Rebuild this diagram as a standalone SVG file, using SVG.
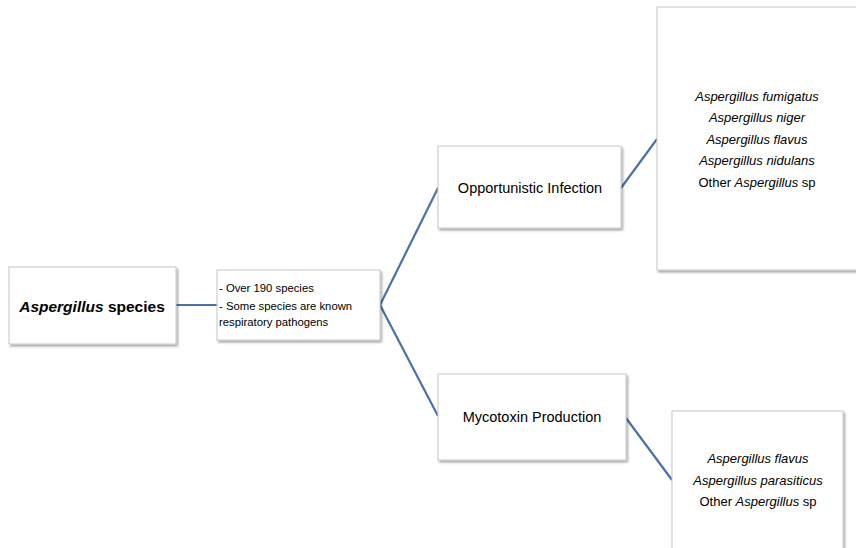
<svg xmlns="http://www.w3.org/2000/svg" width="856" height="548" viewBox="0 0 856 548">
<defs>
<filter id="sh" x="-10%" y="-10%" width="130%" height="130%">
<feDropShadow dx="1.5" dy="2" stdDeviation="1" flood-color="#000" flood-opacity="0.35"/>
</filter>
</defs>
<style>
.box{fill:#fff;stroke:#c8c8c8;stroke-width:1;filter:url(#sh)}
.t{font-family:"Liberation Sans",Arial,sans-serif;fill:#000}
.c{text-anchor:middle}
.i{font-style:italic}
.conn line{stroke:#4a72a8;stroke-width:2.2;fill:none}
</style>
<rect width="856" height="548" fill="#fff"/>
<g id="connectors" class="conn">
<line x1="176" y1="305" x2="217" y2="305"/>
<line x1="380" y1="305" x2="438" y2="188"/>
<line x1="380" y1="305" x2="438" y2="416"/>
<line x1="621" y1="188" x2="657" y2="139"/>
<line x1="626" y1="418" x2="672" y2="480"/>
</g>
<g id="n-aspergillus">
<rect class="box" x="9" y="267" width="167" height="77"/>
<text class="t c" x="92" y="312" font-size="15.5" font-weight="bold"><tspan font-style="italic">Aspergillus</tspan> species</text>
</g>
<g id="n-info">
<rect class="box" x="217" y="270" width="163" height="70"/>
<text class="t" font-size="11.3" x="219" y="292">- Over 190 species</text>
<text class="t" font-size="11.3" x="219" y="310">- Some species are known</text>
<text class="t" font-size="11.3" x="219" y="326">respiratory pathogens</text>
</g>
<g id="n-opportunistic">
<rect class="box" x="438" y="146" width="183" height="82"/>
<text class="t c" x="530" y="193" font-size="14.5">Opportunistic Infection</text>
</g>
<g id="n-opp-species">
<rect class="box" x="657" y="7" width="205" height="263"/>
<text class="t c i" x="757" y="101" font-size="13">Aspergillus fumigatus</text>
<text class="t c i" x="757" y="122" font-size="13">Aspergillus niger</text>
<text class="t c i" x="757" y="144" font-size="13">Aspergillus flavus</text>
<text class="t c i" x="757" y="165" font-size="13">Aspergillus nidulans</text>
<text class="t c" x="757" y="187" font-size="13">Other <tspan font-style="italic">Aspergillus</tspan> sp</text>
</g>
<g id="n-mycotoxin">
<rect class="box" x="438" y="374" width="188" height="86"/>
<text class="t c" x="532" y="422" font-size="14.5">Mycotoxin Production</text>
</g>
<g id="n-myco-species">
<rect class="box" x="672" y="411" width="171" height="145"/>
<text class="t c i" x="758" y="463" font-size="13">Aspergillus flavus</text>
<text class="t c i" x="758" y="485" font-size="13">Aspergillus parasiticus</text>
<text class="t c" x="758" y="506" font-size="13">Other <tspan font-style="italic">Aspergillus</tspan> sp</text>
</g>
</svg>
